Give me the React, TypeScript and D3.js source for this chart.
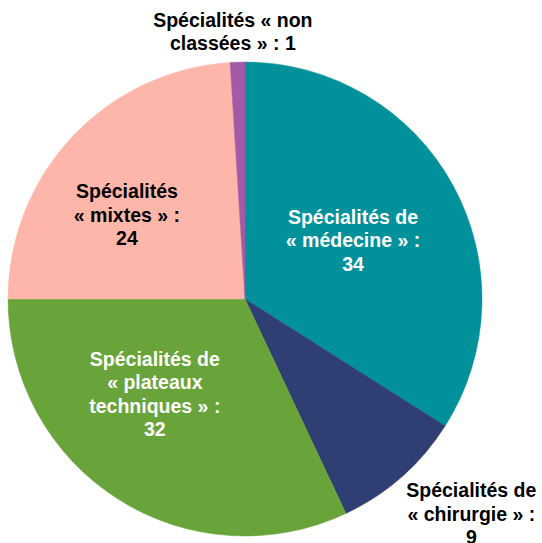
import React from "react";
import * as d3 from "d3";

const categories = [
  ["Spécialités de", "« médecine » :", "34"],
  ["Spécialités de", "« chirurgie » :", "9"],
  ["Spécialités de", "« plateaux", "techniques » :", "32"],
  ["Spécialités", "« mixtes » :", "24"],
  ["Spécialités « non", "classées » : 1"],
];
const values = [34, 9, 32, 24, 1];
const colors = ["#00919B", "#2F3F74", "#68A43A", "#FFB6AA", "#A35BA7"];
const textColors = ["#ffffff", "#000000", "#ffffff", "#000000", "#000000"];
// label placement: polar (degrees clockwise from top, radius in px)
const labelPolar: [number, number][] = [
  [61.4, 123],
  [133.5, 312],
  [223.5, 131],
  [305.5, 145],
  [357.4, 268],
];

export default function App() {
  const W = 542, H = 543;
  const cx = 245, cy = 299, R = 237;
  const pie = d3.pie<number>().sort(null).value((d) => d)(values);
  const arc = d3.arc<d3.PieArcDatum<number>>().innerRadius(0).outerRadius(R);
  const lh = 23.5;
  return (
    <svg width={W} height={H} style={{ position: "absolute", left: 0, top: 0, background: "#fff" }}>
      <g transform={`translate(${cx},${cy})`}>
        {pie.map((p, i) => (
          <path key={i} d={arc(p) || ""} fill={colors[i]} stroke={colors[i]} strokeWidth={0.5} />
        ))}
        {categories.map((lines, i) => {
          const [ang, r] = labelPolar[i];
          const a = (ang * Math.PI) / 180;
          const x = r * Math.sin(a);
          const y = -r * Math.cos(a);
          const y0 = y - ((lines.length - 1) * lh) / 2;
          return (
            <text
              key={i}
              textAnchor="middle"
              fontFamily="Liberation Sans, Arial, sans-serif"
              fontWeight="bold"
              fontSize={19.5}
              fill={textColors[i]}
            >
              {lines.map((l, j) => (
                <tspan key={j} x={x} y={y0 + j * lh} dy="0.36em">
                  {l}
                </tspan>
              ))}
            </text>
          );
        })}
      </g>
    </svg>
  );
}
